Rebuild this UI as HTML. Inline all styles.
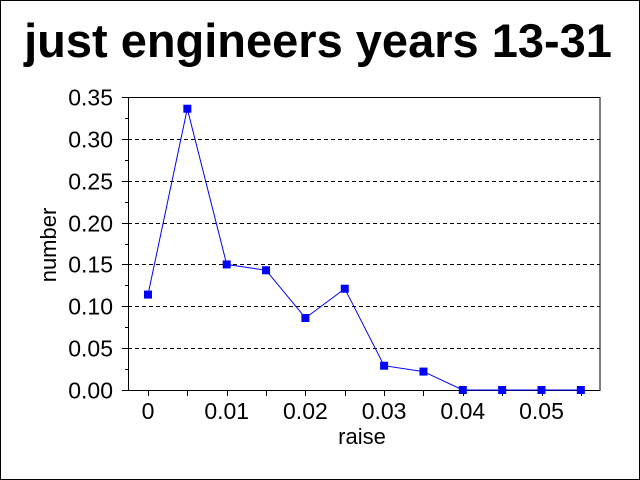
<!DOCTYPE html>
<html><head><meta charset="utf-8"><style>
html,body{margin:0;padding:0;background:#fff;}
svg{display:block;font-family:"Liberation Sans",Arial,sans-serif;}
</style></head><body>
<svg id="chart" width="640" height="480">
<rect x="0.5" y="0.5" width="639" height="479" fill="#fff" stroke="#000"/>
<text x="318" y="57" font-size="47" font-weight="bold" text-anchor="middle">just engineers years 13-31</text>
<text x="362" y="444" font-size="22" text-anchor="middle">raise</text>
<text transform="translate(56,245) rotate(-90)" font-size="22" text-anchor="middle">number</text>
<g id="grid"></g><g id="axes"></g><g id="series"></g>
</svg>
<script>
const xValues=[0,0.005,0.01,0.015,0.02,0.025,0.03,0.035,0.04,0.045,0.05,0.055];
const yValues=[0.114,0.336,0.150,0.143,0.086,0.121,0.029,0.022,0,0,0,0];
const yTicks=[0,0.05,0.10,0.15,0.20,0.25,0.30,0.35];
const yTickLabels=["0.00","0.05","0.10","0.15","0.20","0.25","0.30","0.35"];
const xTicks=[0,0.01,0.02,0.03,0.04,0.05];
const xTickLabels=["0","0.01","0.02","0.03","0.04","0.05"];
const L=128,R=600,T=97,B=390;
const xs=v=>148+v*7870;
const ys=v=>B-v*(B-T)/0.35;
const NS="http://www.w3.org/2000/svg";
function mk(tag,attrs,parent){const e=document.createElementNS(NS,tag);for(const k in attrs)e.setAttribute(k,attrs[k]);parent.appendChild(e);return e;}
const grid=document.getElementById('grid'),axes=document.getElementById('axes'),ser=document.getElementById('series');
yTicks.forEach((v,i)=>{const y=Math.round(ys(v))+0.5;
 if(v>0&&v<0.35){const g=mk('line',{x1:L,x2:R,y1:y,y2:y,stroke:'#000','stroke-dasharray':'4,3'},grid);
 
 }
 const t=mk('line',{x1:L-6,x2:L,y1:y,y2:y,stroke:'#000'},axes);
 
 
 const tx=mk('text',{x:L-15,y:y+8,'font-size':23,'text-anchor':'end'},axes);tx.textContent=yTickLabels[i];
 
 
 if(i<yTicks.length-1){const ym=Math.round(ys(v+0.025))+0.5;const m=mk('line',{x1:L-3,x2:L,y1:ym,y2:ym,stroke:'#000'},axes);
 
 }
});
xValues.forEach(v=>{const x=Math.round(xs(v))+0.5;const t=mk('line',{x1:x,x2:x,y1:B,y2:B+6,stroke:'#000'},axes);
 
 });
xTicks.forEach((v,i)=>{const tx=mk('text',{x:xs(v),y:B+29,'font-size':23,'text-anchor':'middle'},axes);tx.textContent=xTickLabels[i];
 
 });
const pa=mk('path',{d:`M${L+0.5} ${T}V${B+0.5}H${R}V${T+0.5}H${L}`,fill:'none',stroke:'#000'},axes);


const pts=xValues.map((v,i)=>xs(v).toFixed(1)+','+ys(yValues[i]).toFixed(1)).join(' ');
const pl=mk('polyline',{points:pts,fill:'none',stroke:'#0000ff','stroke-width':1},ser);


xValues.forEach((v,i)=>{const r=mk('rect',{x:xs(v)-4,y:ys(yValues[i])-4,width:8,height:8,fill:'#0000ff'},ser);
 
 });
</script>
</body></html>
